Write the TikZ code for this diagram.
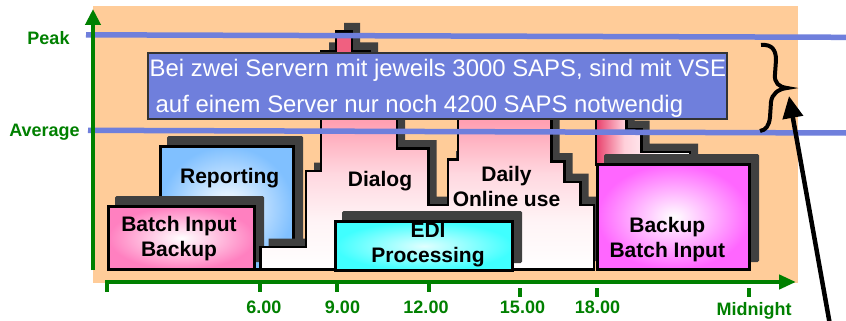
\documentclass[tikz,border=0pt]{standalone}
\usepackage{fontspec}
\setmainfont{Liberation Sans}
\usetikzlibrary{arrows.meta}
\definecolor{peach}{HTML}{FFCC99}
\definecolor{axisgreen}{HTML}{008000}
\definecolor{lineblue}{HTML}{6F7FDC}
\definecolor{shadowgray}{HTML}{404040}
\definecolor{pinkbox}{HTML}{FF80C0}
\definecolor{bluebox}{HTML}{80C0FF}
\definecolor{cyanbox}{HTML}{40FFFF}
\definecolor{cyanin}{HTML}{E0FFFF}
\definecolor{magbox}{HTML}{FF66FF}
\definecolor{pkA}{HTML}{FFF4F6}
\definecolor{pkB}{HTML}{FFD8E0}
\definecolor{pkC}{HTML}{FFA0B2}
\definecolor{pkD}{HTML}{FF8AA4}
\definecolor{pkE}{HTML}{F06080}
\definecolor{eveA}{HTML}{E8406C}
\definecolor{eveB}{HTML}{FFD0DA}
\pgfdeclareverticalshading{bigpink}{100bp}{color(0bp)=(white); color(25bp)=(white); color(35bp)=(pkA); color(45bp)=(pkB); color(56bp)=(pkC); color(68bp)=(pkD); color(71bp)=(pkE); color(100bp)=(pkE)}
\pgfdeclarehorizontalshading{evening}{100bp}{color(0bp)=(eveA); color(25bp)=(eveA); color(40bp)=(eveB); color(60bp)=(white); color(100bp)=(white)}
\tikzset{
  shadowfill/.style={fill=shadowgray, rounded corners=1.5pt},
  boxline/.style={draw=black, line width=3pt},
  shapeline/.style={draw=black, line width=2.8pt},
  boxlabel/.style={font=\fontsize{21}{24.5}\selectfont\bfseries, align=center, inner sep=0pt},
  axislabel/.style={font=\fontsize{18}{21}\selectfont\bfseries, text=axisgreen, inner sep=0pt, anchor=base},
  axisline/.style={draw=axisgreen, line width=4.3pt},
  ticksty/.style={draw=axisgreen, line width=4pt},
  levelline/.style={draw=lineblue, line width=5.5pt},
  infotext/.style={font=\fontsize{23.9}{28}\selectfont, text=white, inner sep=0pt, anchor=base west},
  bracesty/.style={draw=black, line width=4pt},
  bigarrow/.style={draw=black, line width=4.5pt, -{Triangle[length=22pt,width=20pt]}},
}
\begin{document}
\begin{tikzpicture}[x=1pt,y=-1pt]
\useasboundingbox (0,0) rectangle (846,321);
\fill[white] (0,0) rectangle (846,321);
\fill[peach] (93,6) rectangle (798,283);

% Reporting
\fill[shadowfill] (167,136) rectangle (303,262);
\shadedraw[boxline, inner color=white, outer color=bluebox] (160.5,146.5) rectangle (293.5,269.5);

% Batch Input Backup
\fill[shadowfill] (115,196) rectangle (264,262);
\shadedraw[boxline, inner color=white, outer color=pinkbox] (108.5,206.5) rectangle (254.5,269.5);

% big stepped shape (Dialog / Daily online use)
\begin{scope}[shift={(8,-8.5)}]
\fill[shadowgray] (260.5,269.5) -- (260.5,247) -- (306,247) -- (306,171) -- (321,171) -- (321,51) -- (336,51) -- (336,31.5) -- (352,31.5) -- (352,51) -- (370,51) -- (370,100) -- (397,100) -- (397,148.5) -- (428.5,148.5) -- (428.5,205) -- (448,205) -- (448,159.5) -- (458,159.5) -- (458,80) -- (551.5,80) -- (551.5,161.5) -- (564.5,161.5) -- (564.5,182) -- (580.5,182) -- (580.5,205) -- (594,205) -- (594,269.5) -- cycle;
\end{scope}
\shadedraw[shapeline, shading=bigpink] (260.5,269.5) -- (260.5,247) -- (306,247) -- (306,171) -- (321,171) -- (321,51) -- (336,51) -- (336,31.5) -- (352,31.5) -- (352,51) -- (370,51) -- (370,100) -- (397,100) -- (397,148.5) -- (428.5,148.5) -- (428.5,205) -- (448,205) -- (448,159.5) -- (458,159.5) -- (458,80) -- (551.5,80) -- (551.5,161.5) -- (564.5,161.5) -- (564.5,182) -- (580.5,182) -- (580.5,205) -- (594,205) -- (594,269.5) -- cycle;

% EDI Processing
\fill[shadowfill] (342,211) rectangle (522,263);
\shadedraw[boxline, inner color=cyanin, outer color=cyanbox] (335.5,221.5) rectangle (512.5,270.5);

% evening peak
\begin{scope}[shift={(8,-8.5)}]
\fill[shadowgray] (596,165) -- (596,80) -- (626.5,80) -- (626.5,129) -- (641.5,129) -- (641.5,152) -- (690,152) -- (690,165) -- cycle;
\end{scope}
\shadedraw[shapeline, shading=evening] (596,165) -- (596,80) -- (626.5,80) -- (626.5,129) -- (641.5,129) -- (641.5,152) -- (690,152) -- (690,165) -- cycle;

% Backup Batch Input
\fill[shadowfill] (604,154) rectangle (759,262);
\shadedraw[boxline, inner color=white, outer color=magbox] (597.5,164.5) rectangle (749.5,269.5);

% box labels
\node[boxlabel, anchor=base] (reporting) at (229.7,183.3) {Reporting};
\node[boxlabel] (batchbackup) at (179,238.6) {Batch Input\\Backup};
\node[boxlabel, anchor=base] (dialog) at (380,186) {Dialog};
\node[boxlabel] (daily) at (506.5,186.5) {Daily\\Online use};
\node[boxlabel] (edi) at (428,245.2) {EDI\\Processing};
\node[boxlabel] (backupbatch) at (667.3,239.7) {Backup\\Batch Input};

% level lines
\coordinate (peakL) at (86,34.8);
\coordinate (peakR) at (846,37.3);
\coordinate (avgL) at (88,130.3);
\coordinate (avgR) at (846,133);
\draw[levelline] (peakL) -- (peakR);
\draw[levelline] (avgL) -- (avgR);

% info box
\filldraw[fill=lineblue, draw=black!80, line width=1.2pt] (148,53) rectangle (727,119);
\node[infotext] (infoA) at (149.5,77) {Bei zwei Servern mit jeweils 3000 SAPS, sind mit VSE};
\node[infotext] (infoB) at (155.5,112) {auf einem Server nur noch 4200 SAPS notwendig};

% axes
\coordinate (yfoot) at (93,270);
\coordinate (ytip) at (93,9);
\coordinate (xfoot) at (105,282);
\coordinate (xtip) at (796,282);
\draw[axisline, -{Triangle[length=16pt,width=15pt]}] (yfoot) -- (ytip);
\draw[axisline, -{Triangle[length=17pt,width=14pt]}] (xfoot) -- (xtip);
\draw[ticksty] (107,281) -- (107,292);
\draw[ticksty] (260,282) -- (260,292);
\draw[ticksty] (337,282) -- (337,292);
\draw[ticksty] (429,282) -- (429,292);
\draw[ticksty] (520,288) -- (520,297);
\draw[ticksty] (597,288) -- (597,297);
\draw[ticksty] (749,288) -- (749,297);

\node[axislabel] (peak) at (48.5,44.3) {Peak};
\node[axislabel] (avg) at (44.5,136) {Average};
\node[axislabel] (t6) at (263.8,313.3) {6.00};
\node[axislabel] (t9) at (342.5,313.3) {9.00};
\node[axislabel] (t12) at (426,313.3) {12.00};
\node[axislabel] (t15) at (522.5,313.3) {15.00};
\node[axislabel] (t18) at (597.5,313.3) {18.00};
\node[axislabel] (tmid) at (754,315) {Midnight};

% brace and arrow
\draw[bracesty] (761,45) .. controls (772,44) and (776,50) .. (776,60) -- (775,74) .. controls (774,83) and (779,87) .. (787,88) .. controls (778,89) and (772,94) .. (771,102) -- (770,117) .. controls (769,126) and (766,130) .. (760,131);
\coordinate (arrowfoot) at (830,325);
\coordinate (arrowtip) at (789,96);
\draw[bigarrow] (arrowfoot) -- (arrowtip);
\end{tikzpicture}
\end{document}
